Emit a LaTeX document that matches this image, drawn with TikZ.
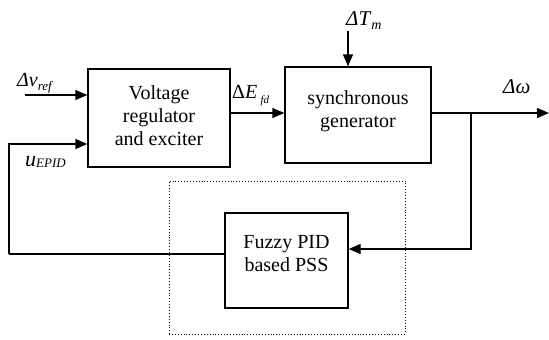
\documentclass[tikz,border=0pt]{standalone}
\usepackage{fontspec}
\setmainfont{Liberation Serif}
\usetikzlibrary{arrows.meta}
\begin{document}
\begin{tikzpicture}[x=1pt,y=-1pt,
  blk/.style={draw,line width=1.4pt,inner sep=0pt},
  txt/.style={align=center,inner sep=0pt,font=\fontsize{20}{23}\selectfont},
  lbl/.style={inner sep=0pt,anchor=base west},
  arr/.style={line width=1.4pt,-{Triangle[length=12pt,width=10pt]}},
  ln/.style={line width=1.4pt}]
\useasboundingbox (0,0) rectangle (549,340);
% blocks
\node[blk,minimum width=142pt,minimum height=98pt] (vr) at (159,118) {};
\node[blk,minimum width=146pt,minimum height=96pt] (sg) at (358,115) {};
\node[blk,minimum width=123pt,minimum height=95pt] (fz) at (286.5,260.5) {};
\node[draw,dotted,line width=0.9pt,inner sep=0pt,minimum width=236pt,minimum height=153pt] (db) at (287,257.5) {};
% texts
\node[txt] (vrt) at (159,116) {Voltage\\regulator\\and exciter};
\node[txt] (sgt) at (358,111) {synchronous\\generator};
\node[txt] (fzt) at (286.5,254) {Fuzzy PID\\based PSS};
% labels
\node[lbl] (lv) at (17,86) {\fontsize{20}{20}\selectfont\textit{Δv}\raisebox{-4pt}{\fontsize{13}{13}\selectfont\textit{ref}}};
\node[lbl] (lu) at (25,166) {\fontsize{22}{22}\selectfont\textit{u}\raisebox{-1pt}{\fontsize{13}{13}\selectfont\textit{EPID}}};
\node[lbl] (le) at (232,98) {\fontsize{20}{20}\selectfont Δ\textit{E}\,\raisebox{-5pt}{\fontsize{11}{11}\selectfont\textit{fd}}};
\node[lbl] (lt) at (346,25) {\fontsize{21}{21}\selectfont\textit{ΔT}\raisebox{-4pt}{\fontsize{14}{14}\selectfont\textit{m}}};
\node[lbl] (lw) at (503,93) {\fontsize{21}{21}\selectfont\textit{Δω}};
% connector coordinates
\coordinate (vin) at (25,95);
\coordinate (uin) at (9,144);
\coordinate (tin) at (348,31);
\coordinate (wout) at (549,113);
\coordinate (br) at (471,113);
\coordinate (brd) at (471,249);
\coordinate (fb) at (9,254);
% connectors
\draw[arr] (vin) -- (vin -| vr.west);
\draw[arr] (fb) -- (uin) -- (uin -| vr.west);
\draw[arr] (br -| vr.east) -- (br -| sg.west);
\draw[arr] (tin) -- (tin |- sg.north);
\draw[arr] (br -| sg.east) -- (wout);
\draw[arr] (br) -- (brd) -- (brd -| fz.east);
\draw[ln] (fb -| fz.west) -- (fb);
\end{tikzpicture}
\end{document}
